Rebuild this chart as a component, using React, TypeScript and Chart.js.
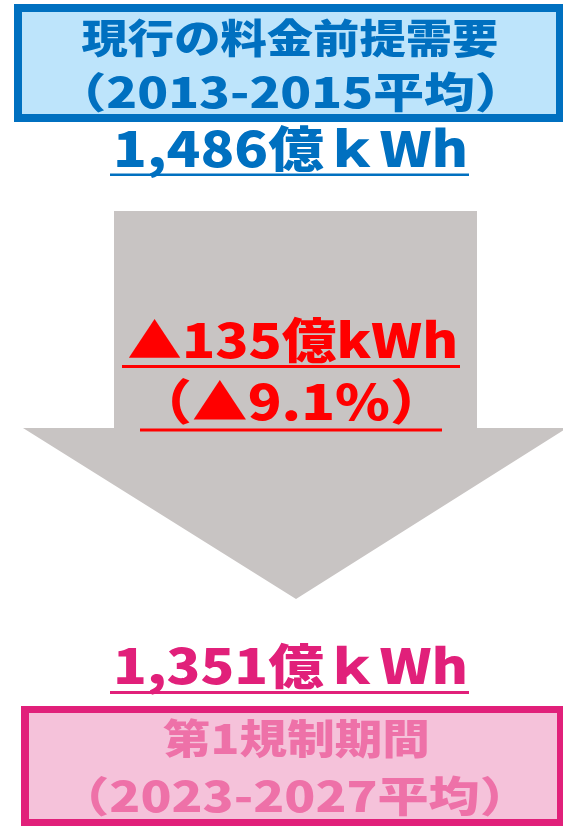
import React, { useEffect, useRef } from "react";
import { Chart, registerables } from "chart.js";

Chart.register(...registerables);

// ---- data ----
const periods = ["現行の料金前提需要", "第1規制期間"];
const periodRanges = ["（2013-2015平均）", "（2023-2027平均）"];
const demand = [1486, 1351]; // 億kWh
const unitSpaced = "億ｋWh";
const unitPlain = "億kWh";

// ---- styles ----
const FONT = '"Noto Sans CJK JP", "Noto Sans", sans-serif';
const BLUE = "#0070C0";
const BLUE_FILL = "#BDE4FB";
const GRAY = "#C8C4C3";
const RED = "#FF0000";
const MAGENTA = "#E1207A";
const PINK_FILL = "#F5C2DA";
const PINK_TEXT = "#EE71A8";

const W = 563;
const H = 826;

function fitText(ctx: CanvasRenderingContext2D, text: string, x0: number, x1: number, y0: number, y1: number, color: string) {
  ctx.save();
  ctx.font = `900 100px ${FONT}`;
  ctx.textAlign = "left";
  ctx.textBaseline = "alphabetic";
  const m = ctx.measureText(text);
  const inkW = m.actualBoundingBoxLeft + m.actualBoundingBoxRight;
  const inkH = m.actualBoundingBoxAscent + m.actualBoundingBoxDescent;
  ctx.translate(x0, y0);
  ctx.scale((x1 - x0) / inkW, (y1 - y0) / inkH);
  ctx.fillStyle = color;
  ctx.fillText(text, m.actualBoundingBoxLeft, m.actualBoundingBoxAscent);
  ctx.restore();
}

const infographic = {
  id: "infographic",
  afterDraw(chart: any) {
    const ctx: CanvasRenderingContext2D = chart.ctx;
    const xs = chart.scales.x;
    const ys = chart.scales.y;
    const X = (v: number) => xs.getPixelForValue(v);
    const Y = (v: number) => ys.getPixelForValue(v);
    const rect = (x0: number, y0: number, x1: number, y1: number, c: string) => {
      ctx.fillStyle = c;
      ctx.fillRect(X(x0), Y(y0), X(x1) - X(x0), Y(y1) - Y(y0));
    };

    const diff = demand[0] - demand[1];
    const pct = ((diff / demand[0]) * 100).toFixed(1);
    const fmt = (v: number) => v.toLocaleString("en-US");

    ctx.save();
    // arrow
    ctx.fillStyle = GRAY;
    ctx.beginPath();
    ctx.moveTo(X(114), Y(211));
    ctx.lineTo(X(477), Y(211));
    ctx.lineTo(X(477), Y(428));
    ctx.lineTo(X(567), Y(428));
    ctx.lineTo(X(296), Y(599));
    ctx.lineTo(X(23), Y(428));
    ctx.lineTo(X(114), Y(428));
    ctx.closePath();
    ctx.fill();

    // top box
    rect(14, 4, 563, 122, BLUE);
    rect(22, 12, 556, 114, BLUE_FILL);
    fitText(ctx, periods[0], X(82), X(497), Y(18), Y(57), BLUE);
    fitText(ctx, periodRanges[0], X(88), X(493), Y(72), Y(113), BLUE);

    // top value
    fitText(ctx, fmt(demand[0]) + unitSpaced, X(117), X(465), Y(125), Y(178), BLUE);
    rect(110, 173.5, 469, 176, BLUE);

    // difference
    fitText(ctx, "▲" + diff + unitPlain, X(129), X(455), Y(317), Y(363), RED);
    rect(122, 365, 460, 368, RED);
    fitText(ctx, "（▲" + pct + "%）", X(172), X(410), Y(378), Y(425), RED);
    rect(140, 428.5, 442, 431.5, RED);

    // bottom value
    fitText(ctx, fmt(demand[1]) + unitSpaced, X(117), X(465), Y(643), Y(695), MAGENTA);
    rect(110, 691, 469, 694, MAGENTA);

    // bottom box
    rect(21, 706, 563, 826, MAGENTA);
    rect(29, 713, 557, 819, PINK_FILL);
    fitText(ctx, periods[1], X(163), X(427), Y(718), Y(758), PINK_TEXT);
    fitText(ctx, periodRanges[1], X(91), X(498), Y(776), Y(817), PINK_TEXT);
    ctx.restore();
  },
};

export default function App() {
  const ref = useRef<HTMLCanvasElement | null>(null);
  useEffect(() => {
    document.body.style.margin = "0";
    if (!ref.current) return;
    const chart = new Chart(ref.current, {
      type: "bar",
      data: {
        labels: periods,
        datasets: [{ data: [], backgroundColor: "transparent" }],
      },
      options: {
        responsive: false,
        animation: false,
        devicePixelRatio: 1,
        layout: { padding: 0 },
        plugins: { legend: { display: false }, tooltip: { enabled: false } },
        scales: {
          x: { type: "linear", min: 0, max: W, display: false, offset: false, grace: 0 },
          y: { type: "linear", min: 0, max: H, reverse: true, display: false, offset: false, grace: 0 },
        },
      },
      plugins: [infographic],
    });
    return () => chart.destroy();
  }, []);
  return (
    <div style={{ width: W, height: H, background: "#fff" }}>
      <canvas ref={ref} width={W} height={H} style={{ display: "block" }} />
    </div>
  );
}
